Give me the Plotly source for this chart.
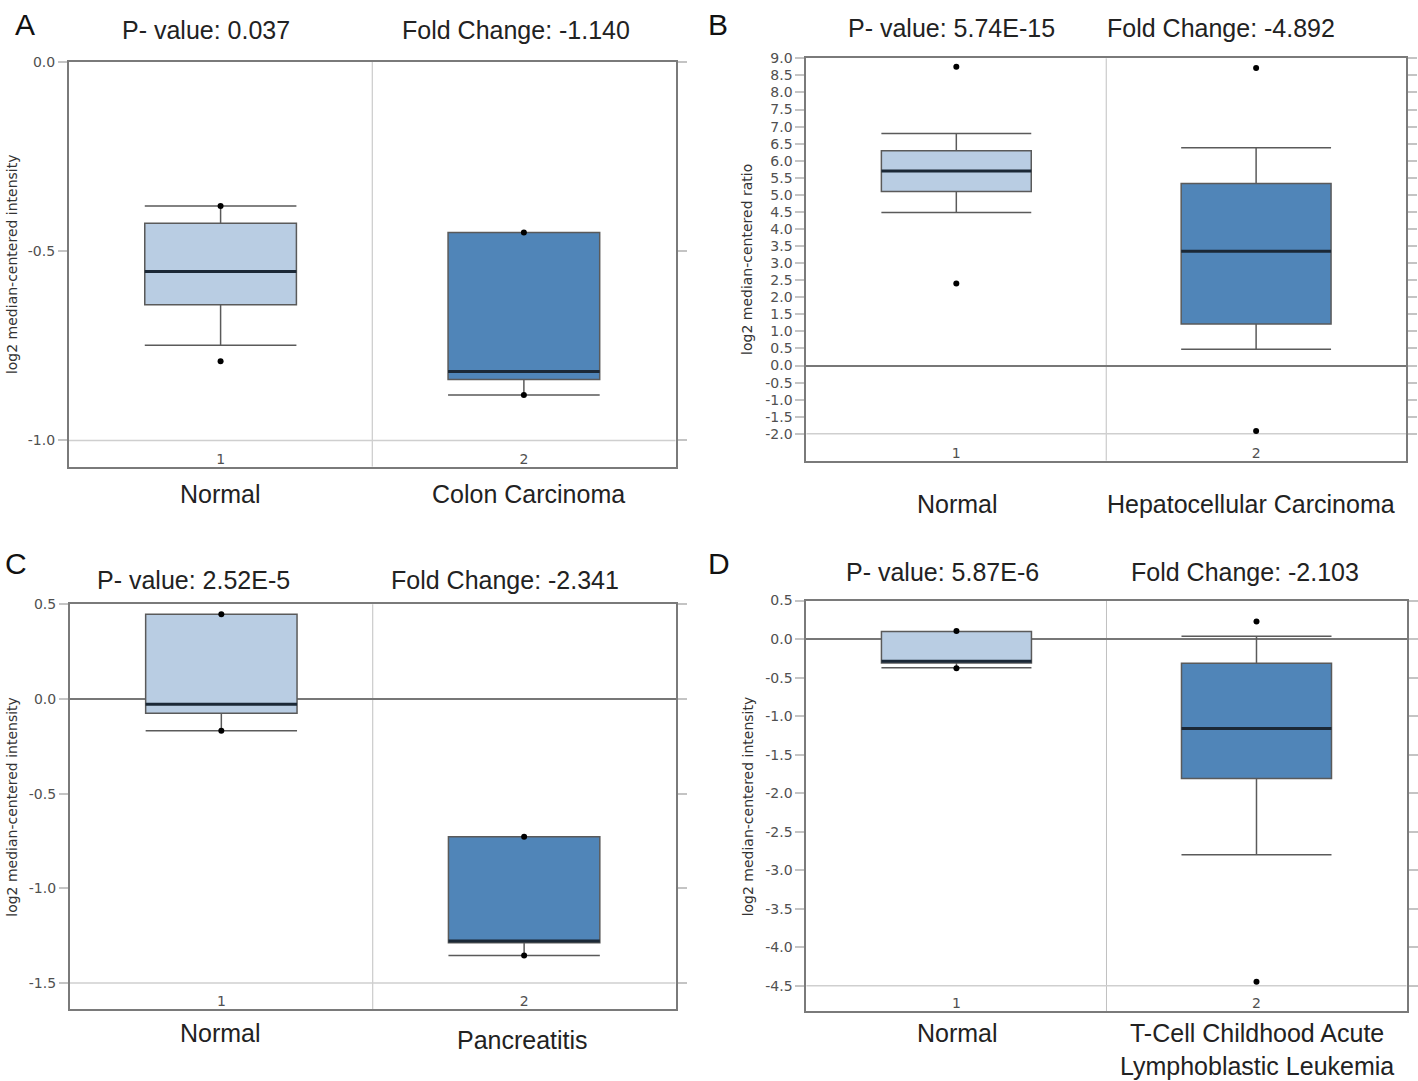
import plotly.graph_objects as go

W, H = 1418, 1081

# ---------------- data ----------------
panel_letters = ["A", "B", "C", "D"]
p_values = ["0.037", "5.74E-15", "2.52E-5", "5.87E-6"]
fold_changes = ["-1.140", "-4.892", "-2.341", "-2.103"]
group_labels = [
    ["Normal", "Colon Carcinoma"],
    ["Normal", "Hepatocellular Carcinoma"],
    ["Normal", "Pancreatitis"],
    ["Normal", "T-Cell Childhood Acute<br>Lymphoblastic Leukemia"],
]
y_titles = [
    "log2 median-centered intensity",
    "log2 median-centered ratio",
    "log2 median-centered intensity",
    "log2 median-centered intensity",
]
group_ticks = ["1", "2"]

# box statistics per panel: [Normal, Disease]
lowerfence = [[-0.749, -0.880], [4.48, 0.48], [-0.168, -1.354], [-0.371, -2.80]]
q1 = [[-0.642, -0.839], [5.10, 1.22], [-0.076, -1.287], [-0.310, -1.81]]
median = [[-0.554, -0.818], [5.70, 3.35], [-0.028, -1.278], [-0.288, -1.16]]
q3 = [[-0.427, -0.451], [6.29, 5.33], [0.447, -0.728], [0.097, -0.312]]
upperfence = [[-0.381, -0.451], [6.80, 6.38], [0.447, -0.728], [0.097, 0.036]]
points = [
    [[-0.381, -0.791], [-0.451, -0.880]],
    [[8.75, 2.40], [8.72, -1.92]],
    [[0.447, -0.168], [-0.728, -1.354]],
    [[0.104, -0.380], [0.229, -4.45]],
]

# y tick values per panel
y_ticks = [
    [-1.0, -0.5, 0.0],
    [-2.0 + 0.5 * i for i in range(23)],
    [-1.5, -1.0, -0.5, 0.0, 0.5],
    [-4.5 + 0.5 * i for i in range(11)],
]

# ---------------- layout geometry (pixels) ----------------
frames = [  # left, right, top, bottom
    (69, 676, 54, 462),
    (807, 1407, 50.7, 456),
    (70, 676, 600.7, 1008.7),
    (807, 1407.5, 597, 1010.7),
]
y_ranges = [[-1.069, 0.0], [-2.785, 9.0], [-1.638, 0.5], [-4.831, 0.5]]

fills = ["#b9cde3", "#5085b8"]
box_w = 0.5

def px(x):
    return x / W

def py(y):
    return 1 - y / H

fig = go.Figure()
layout = dict(
    width=W, height=H, margin=dict(l=0, r=0, t=0, b=0),
    paper_bgcolor="white", plot_bgcolor="white", showlegend=False,
    font=dict(family="Liberation Sans, Arial, sans-serif", color="#222"),
)
annotations = []
shapes = []

letter_pos = [(25, 17), (719, 17), (16, 560), (720, 560)]
pval_pos = [(206, 22), (952, 20), (194, 576), (943, 568)]
fc_pos = [(516, 22), (1222, 20), (505, 576), (1246, 568)]
cat_pos = [
    [(221, 490), (529, 490)],
    [(958, 500), (1252, 500)],
    [(221, 1033), (523, 1040)],
    [(958, 1033), (1258, 1049)],
]
ytitle_x = [12, 748, 12, 748]
tick_font = dict(family="DejaVu Sans", size=14, color="#505050")

for k in range(4):
    n = "" if k == 0 else str(k + 1)
    xa, ya = "x" + n, "y" + n
    l, r, t, b = frames[k]
    layout["xaxis" + n] = dict(
        domain=[px(l), px(r)], range=[-0.5, 1.5], anchor=ya,
        showline=True, mirror=True, linecolor="#7a7a7a", linewidth=2,
        showgrid=False, zeroline=False, ticks="",
        tickvals=[0, 1], ticktext=group_ticks, ticklabelposition="inside",
        tickfont=tick_font, fixedrange=True,
    )
    layout["yaxis" + n] = dict(
        domain=[py(b), py(t)], range=y_ranges[k], anchor=xa,
        showline=True, mirror="allticks", linecolor="#7a7a7a", linewidth=2,
        showgrid=False, zeroline=True, zerolinecolor="#777", zerolinewidth=2,
        ticks="outside", ticklen=9, tickwidth=1.5, tickcolor="#c4c4c4",
        tickvals=y_ticks[k], ticktext=[f"{v:.1f}" for v in y_ticks[k]],
        tickfont=tick_font, fixedrange=True,
    )
    # divider between groups
    shapes.append(dict(type="line", xref=xa, yref=ya + " domain", x0=0.5, x1=0.5,
                       y0=0, y1=1, line=dict(color="#c0c0c0", width=1), layer="below"))
    # baseline grid at lowest tick
    shapes.append(dict(type="line", xref=xa + " domain", yref=ya, x0=0, x1=1,
                       y0=min(y_ticks[k]), y1=min(y_ticks[k]),
                       line=dict(color="#cfcfcf", width=1.5), layer="below"))

    for g in range(2):
        fig.add_trace(go.Box(
            x=[g], q1=[q1[k][g]], median=[median[k][g]], q3=[q3[k][g]],
            lowerfence=[lowerfence[k][g]], upperfence=[upperfence[k][g]],
            width=box_w, whiskerwidth=1, fillcolor=fills[g],
            line=dict(color="#5a5a5a", width=1.5), boxpoints=False,
            hoverinfo="skip", xaxis=xa, yaxis=ya,
        ))
        fig.add_trace(go.Scatter(
            x=[g - box_w / 2, g + box_w / 2], y=[median[k][g]] * 2, mode="lines",
            line=dict(color="#1b2836", width=3), hoverinfo="skip", xaxis=xa, yaxis=ya,
        ))
        fig.add_trace(go.Scatter(
            x=[g] * len(points[k][g]), y=points[k][g], mode="markers",
            marker=dict(color="black", size=6), hoverinfo="skip", xaxis=xa, yaxis=ya,
        ))

    # texts
    lx, ly = letter_pos[k]
    annotations.append(dict(text=panel_letters[k], x=px(lx), y=py(ly), xref="paper", yref="paper",
                            showarrow=False, xanchor="center", yanchor="middle",
                            font=dict(size=30, color="#111", family="Liberation Sans")))
    x0, y0 = pval_pos[k]
    annotations.append(dict(text="P- value: " + p_values[k], x=px(x0), y=py(y0), xref="paper", yref="paper",
                            showarrow=False, xanchor="center", yanchor="middle",
                            font=dict(size=25, color="#222")))
    x0, y0 = fc_pos[k]
    annotations.append(dict(text="Fold Change: " + fold_changes[k], x=px(x0), y=py(y0), xref="paper", yref="paper",
                            showarrow=False, xanchor="center", yanchor="middle",
                            font=dict(size=25, color="#222")))
    for g in range(2):
        cx, cy = cat_pos[k][g]
        annotations.append(dict(text=group_labels[k][g], x=px(cx), y=py(cy), xref="paper", yref="paper",
                                showarrow=False, xanchor="center", yanchor="middle",
                                font=dict(size=25, color="#222")))
    annotations.append(dict(text=y_titles[k], x=px(ytitle_x[k]), y=0.5, xref="paper", yref=ya + " domain",
                            showarrow=False, xanchor="center", yanchor="middle", textangle=-90,
                            font=dict(size=14, color="#333", family="DejaVu Sans")))

layout["annotations"] = annotations
layout["shapes"] = shapes
fig.update_layout(**layout)
fig.write_html(
    "out.html",
    config={"displayModeBar": False},
    post_script="document.body.style.margin='0';document.body.style.padding='0';"
                "document.body.style.overflow='hidden';",
)
